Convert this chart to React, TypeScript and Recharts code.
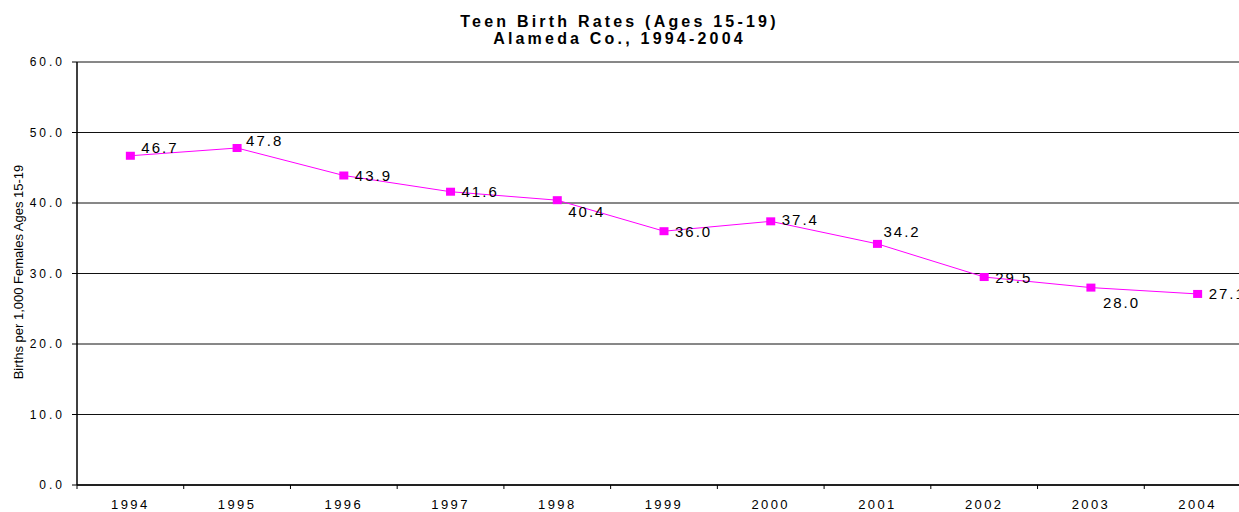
import { LineChart, Line, XAxis, YAxis, CartesianGrid } from 'recharts';

const years = ['1994', '1995', '1996', '1997', '1998', '1999', '2000', '2001', '2002', '2003', '2004'];
const birthRates = [46.7, 47.8, 43.9, 41.6, 40.4, 36.0, 37.4, 34.2, 29.5, 28.0, 27.1];
const yTicks = [0, 10, 20, 30, 40, 50, 60];

// where each value label sits relative to its marker (dx, dy)
const labelNudge: [number, number][] = [
  [11, -8], [9, -8], [11, 0], [11, 0], [11, 11], [11, 0],
  [11, -2], [6, -12], [11, 0], [12, 15], [11, 0],
];

const FONT = '"Liberation Sans", Arial, sans-serif';
const W = 1262;
const H = 512;
const LEFT = 77;
const RIGHT_MARGIN = 11;
const BAND = (W - LEFT - RIGHT_MARGIN) / years.length;

const data = years.map((year, i) => ({ year, rate: birthRates[i] }));

function SquareDot(props: any) {
  const { cx, cy, index, value } = props;
  if (cx == null || cy == null) return null;
  const [dx, dy] = labelNudge[index] ?? [11, 0];
  return (
    <g>
      <rect x={cx - 4.5} y={cy - 4} width={9} height={8} fill="#FF00FF" />
      <text
        x={cx + dx}
        y={cy + dy}
        dominantBaseline="central"
        fontFamily={FONT}
        fontSize={15}
        letterSpacing={2}
        fill="#000"
      >
        {Number(value).toFixed(1)}
      </text>
    </g>
  );
}

function YearTick(props: any) {
  const { x, y, payload } = props;
  const edge = x - BAND / 2;
  return (
    <g>
      <line x1={edge} y1={y} x2={edge} y2={y + 4} stroke="#000" />
      <text x={x} y={y + 24} textAnchor="middle" fontFamily={FONT} fontSize={13} letterSpacing={2.4} fill="#000">
        {payload.value}
      </text>
    </g>
  );
}

function AxisTitle() {
  return (
    <text
      x={18}
      y={272}
      transform="rotate(-90, 18, 272)"
      textAnchor="middle"
      dominantBaseline="central"
      fontFamily={FONT}
      fontSize={13}
      fill="#000"
    >
      Births per 1,000 Females Ages 15-19
    </text>
  );
}

export default function App() {
  return (
    <div style={{ position: 'fixed', left: 0, top: 0, width: W, height: H, background: '#fff', fontFamily: FONT }}>
      <div
        style={{
          position: 'absolute',
          left: 0,
          top: 13,
          width: 1239,
          textAlign: 'center',
          fontWeight: 'bold',
          fontSize: 16,
          lineHeight: '17px',
          letterSpacing: 3.2,
          color: '#000',
        }}
      >
        <div>Teen Birth Rates (Ages 15-19)</div>
        <div>Alameda Co., 1994-2004</div>
      </div>
      <LineChart width={W} height={H} data={data} margin={{ top: 62, right: RIGHT_MARGIN, left: 0, bottom: 0 }}>
        <CartesianGrid vertical={false} stroke="#111" strokeWidth={1} />
        <XAxis
          dataKey="year"
          scale="band"
          height={27}
          axisLine={{ stroke: '#000', strokeWidth: 1.5 }}
          tickLine={false}
          tickSize={0}
          tickMargin={0}
          interval={0}
          tick={<YearTick />}
        />
        <YAxis
          width={LEFT}
          domain={[0, 60]}
          ticks={yTicks}
          interval={0}
          axisLine={{ stroke: '#000', strokeWidth: 1.5 }}
          tickLine={{ stroke: '#000' }}
          tickSize={5}
          tickMargin={7}
          tickFormatter={(v: number) => v.toFixed(1)}
          tick={{ fontFamily: FONT, fontSize: 12, letterSpacing: 3, fill: '#000' }}
          label={<AxisTitle />}
        />
        <Line
          type="linear"
          dataKey="rate"
          stroke="#FF00FF"
          strokeWidth={1}
          dot={<SquareDot />}
          activeDot={false}
          isAnimationActive={false}
        />
      </LineChart>
    </div>
  );
}
